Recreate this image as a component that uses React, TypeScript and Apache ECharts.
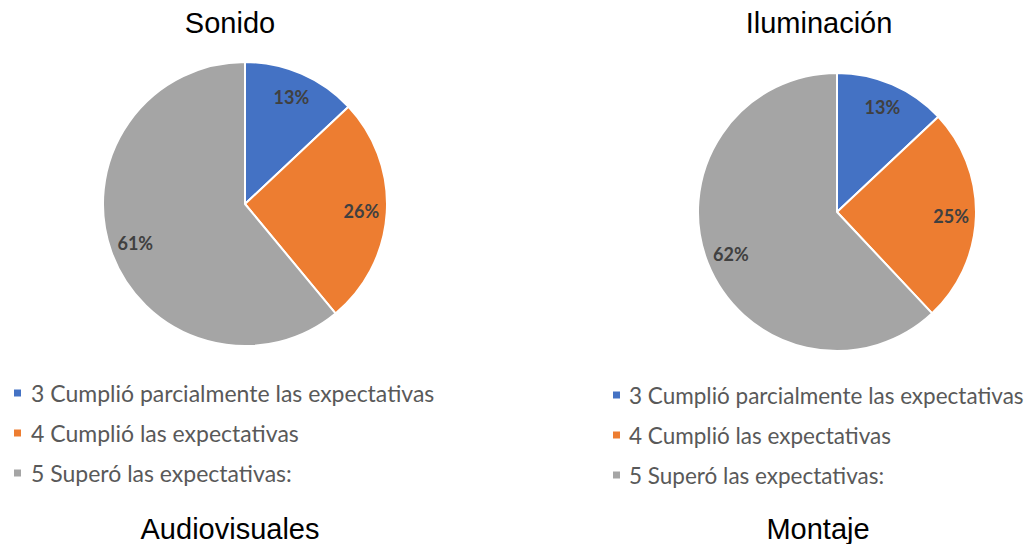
import React, { useEffect, useRef } from "react";
import * as echarts from "echarts";

const categories = [
  "3 Cumplió parcialmente las expectativas",
  "4 Cumplió las expectativas",
  "5 Superó las expectativas:",
];
const colors = ["#4472C4", "#ED7D31", "#A5A5A5"];
const sonidoValues = [13, 26, 61];
const iluminacionValues = [13, 25, 62];
const topTitles = ["Sonido", "Iluminación"];
const bottomTitles = ["Audiovisuales", "Montaje"];

const LABEL_FONT = "Lato";

function makeData(values: number[]) {
  return categories.map((name, i) => ({
    name,
    value: values[i],
    itemStyle: { color: colors[i] },
  }));
}

function pieSeries(values: number[], center: [number, number], r: number) {
  return [
    {
      type: "pie",
      center,
      radius: [0, r],
      startAngle: 90,
      clockwise: true,
      silent: true,
      label: { show: false },
      labelLine: { show: false },
      itemStyle: { borderColor: "#ffffff", borderWidth: 2 },
      data: makeData(values),
    },
    {
      type: "pie",
      center,
      radius: [r * 0.6, r],
      startAngle: 90,
      clockwise: true,
      silent: true,
      itemStyle: { color: "transparent", borderWidth: 0 },
      label: {
        show: true,
        position: "inside",
        formatter: "{c}%",
        fontFamily: LABEL_FONT,
        fontWeight: "bold",
        fontSize: 18,
        color: "#404040",
      },
      labelLine: { show: false },
      data: categories.map((name, i) => ({
        name,
        value: values[i],
        itemStyle: { color: "transparent" },
      })),
    },
  ];
}

function legend(left: number, top: number, fontSize: number, pad: number) {
  return {
    orient: "vertical",
    left,
    top,
    padding: 0,
    icon: "rect",
    itemWidth: 9,
    itemHeight: 9,
    itemGap: 16,
    selectedMode: false,
    textStyle: {
      fontFamily: LABEL_FONT,
      fontSize,
      color: "#595959",
      lineHeight: 24,
      padding: [0, 0, 0, pad],
    },
    data: categories.map((name, i) => ({ name, itemStyle: { color: colors[i] } })),
  };
}

function titleText(text: string, x: number, y: number) {
  return {
    type: "text",
    x,
    y,
    style: {
      text,
      fontFamily: "Liberation Sans",
      fontSize: 29,
      fill: "#000000",
      textAlign: "center",
      textVerticalAlign: "middle",
    },
  };
}

export default function App() {
  const ref = useRef<HTMLDivElement>(null);
  useEffect(() => {
    document.body.style.margin = "0";
    const chart = echarts.init(ref.current!, undefined, { renderer: "svg" });
    chart.setOption({
      animation: false,
      backgroundColor: "#ffffff",
      legend: [legend(12, 381, 23, 4), legend(611, 383, 22.5, 3)],
      series: [
        ...pieSeries(sonidoValues, [245, 204], 142),
        ...pieSeries(iluminacionValues, [837, 212], 139),
      ],
      graphic: [
        titleText(topTitles[0], 230, 23),
        titleText(topTitles[1], 819, 23),
        titleText(bottomTitles[0], 230, 529),
        titleText(bottomTitles[1], 818, 529),
      ],
    });
    return () => chart.dispose();
  }, []);
  return (
    <div
      ref={ref}
      style={{ position: "absolute", left: 0, top: 0, width: 1028, height: 544 }}
    />
  );
}
